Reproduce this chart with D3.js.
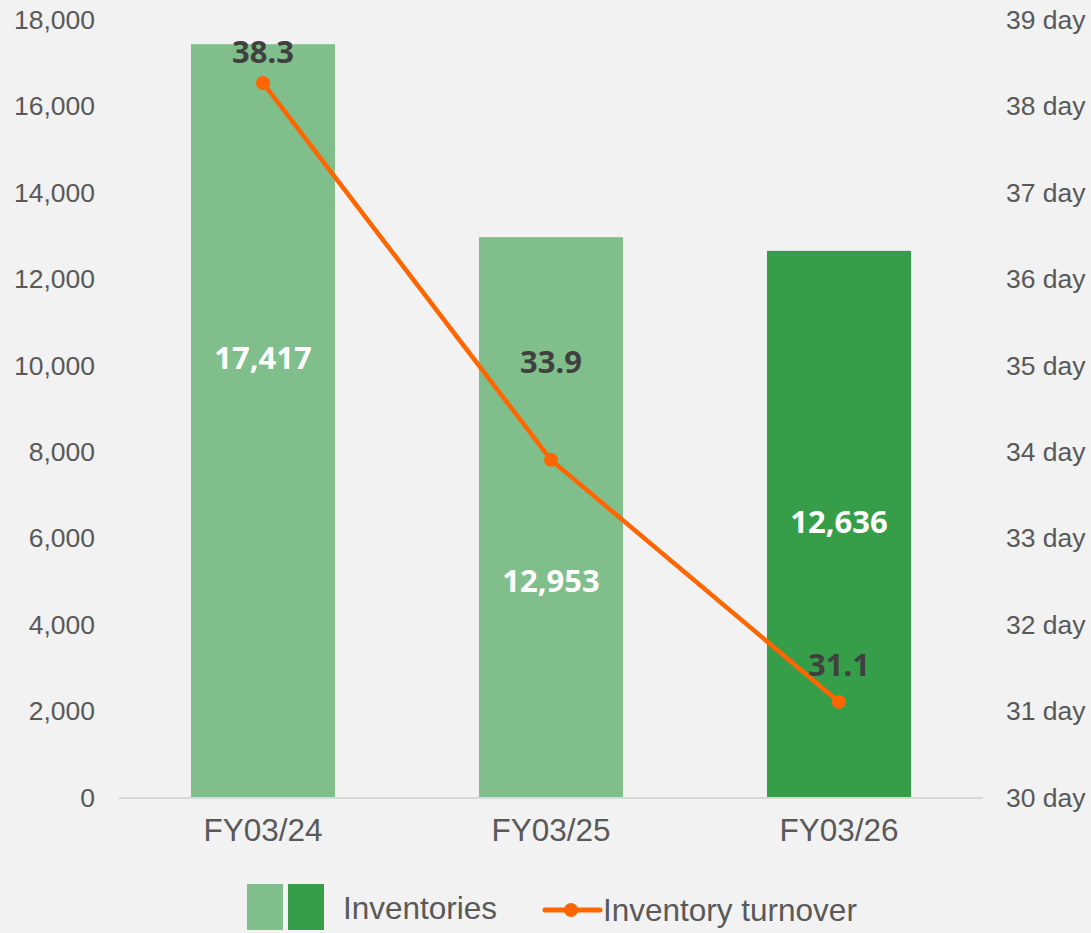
<!DOCTYPE html>
<head>
<meta charset="utf-8">
<script src="https://d3js.org/d3.v7.min.js"></script>
<style>
  body{ margin:0; background:#f2f2f2; }
  text{ font-family: "Liberation Sans", Arial, sans-serif; }
  .tick text{ fill:#595959; font-size:26.5px; }
  .xAxis .tick text{ font-size:31.5px; }
  path.domain{ display:none; }
  .tick line{ display:none; }
  text.valueLabel{ font-family:"Noto Sans", sans-serif; font-weight:700; font-size:31px; }
  text.legend{ fill:#595959; font-size:31.5px; }
</style>
<title>Inventories</title>
</head>
<body>
<script>
const width = 1091;
const height = 933;

// data
const categories = ['FY03/24', 'FY03/25', 'FY03/26'];
const inventories = [17417, 12953, 12636];
const turnover = [38.26, 33.9, 31.1];
const leftTicks = [0, 2000, 4000, 6000, 8000, 10000, 12000, 14000, 16000, 18000];
const rightTicks = [30, 31, 32, 33, 34, 35, 36, 37, 38, 39];
const barColours = ['#80bf8b', '#80bf8b', '#369e48'];

// where the labels sit, in axis units (as placed in the original)
const invLabelAt = [10150, 5000, 6350];
const dayLabelAt = [38.62, 35.03, 31.53];

const margin = {top: 19, right: 108, bottom: 136, left: 119};

const svg = d3.select('body').append('svg')
  .attr('width', width)
  .attr('height', height);

svg.append('rect').attr('width', width).attr('height', height).attr('fill', '#f2f2f2');

const x = d3.scaleBand()
  .domain(categories)
  .range([margin.left, width - margin.right])
  .paddingInner(0.5)
  .paddingOuter(0.25);

const y = d3.scaleLinear()
  .domain([0, 18000])
  .range([height - margin.bottom, margin.top]);

const y2 = d3.scaleLinear()
  .domain([30, 39])
  .range([height - margin.bottom, margin.top]);

// axes
svg.append('g')
  .attr('class', 'axis yAxis')
  .attr('transform', `translate(${margin.left - 12},0)`)
  .call(d3.axisLeft(y).tickValues(leftTicks).tickSize(0).tickPadding(12).tickFormat(d3.format(',')))
  .selectAll('text').attr('dy', '0.35em');

svg.append('g')
  .attr('class', 'axis y2Axis')
  .attr('transform', `translate(${width - margin.right + 10},0)`)
  .call(d3.axisRight(y2).tickValues(rightTicks).tickSize(0).tickPadding(13).tickFormat(d => d + ' day'))
  .selectAll('text').attr('dy', '0.35em');

// bars
svg.selectAll('rect.bar')
  .data(inventories)
  .enter()
  .append('rect')
  .attr('class', 'bar')
  .attr('x', (d, i) => x(categories[i]))
  .attr('width', x.bandwidth())
  .attr('y', d => y(d))
  .attr('height', d => y(0) - y(d))
  .attr('fill', (d, i) => barColours[i]);

// baseline
svg.append('line')
  .attr('x1', margin.left).attr('x2', width - margin.right)
  .attr('y1', y(0) + 1).attr('y2', y(0) + 1)
  .attr('stroke', '#d9d9d9').attr('stroke-width', 2);

svg.append('g')
  .attr('class', 'axis xAxis')
  .attr('transform', `translate(0,${y(0)})`)
  .call(d3.axisBottom(x).tickSize(0).tickPadding(22));

// turnover line
const line = d3.line()
  .x((d, i) => x(categories[i]) + x.bandwidth() / 2)
  .y(d => y2(d));

svg.append('path')
  .datum(turnover)
  .attr('d', line)
  .attr('fill', 'none')
  .attr('stroke', '#ff6600')
  .attr('stroke-width', 4.5);

svg.selectAll('circle.dot')
  .data(turnover)
  .enter()
  .append('circle')
  .attr('class', 'dot')
  .attr('cx', (d, i) => x(categories[i]) + x.bandwidth() / 2)
  .attr('cy', d => y2(d))
  .attr('r', 7)
  .attr('fill', '#ff6600');

// labels
svg.selectAll('text.invLabel')
  .data(inventories)
  .enter()
  .append('text')
  .attr('class', 'valueLabel invLabel')
  .attr('x', (d, i) => x(categories[i]) + x.bandwidth() / 2)
  .attr('y', (d, i) => y(invLabelAt[i]))
  .attr('dy', '0.35em')
  .attr('text-anchor', 'middle')
  .attr('fill', '#ffffff')
  .text(d => d3.format(',')(d));

svg.selectAll('text.dayLabel')
  .data(turnover)
  .enter()
  .append('text')
  .attr('class', 'valueLabel dayLabel')
  .attr('x', (d, i) => x(categories[i]) + x.bandwidth() / 2)
  .attr('y', (d, i) => y2(dayLabelAt[i]))
  .attr('dy', '0.35em')
  .attr('text-anchor', 'middle')
  .attr('fill', '#404040')
  .text(d => d.toFixed(1));

// legend
const lg = svg.append('g').attr('class', 'legendBox');
lg.selectAll('rect')
  .data([barColours[0], barColours[2]])
  .enter()
  .append('rect')
  .attr('x', (d, i) => 247 + i * 41)
  .attr('y', 884)
  .attr('width', 36)
  .attr('height', 46)
  .attr('fill', d => d);
lg.append('text').attr('class', 'legend').attr('x', 343).attr('y', 919).text('Inventories');
lg.append('line')
  .attr('x1', 545).attr('x2', 600).attr('y1', 910).attr('y2', 910)
  .attr('stroke', '#ff6600').attr('stroke-width', 5).attr('stroke-linecap', 'round');
lg.append('circle').attr('cx', 571).attr('cy', 910).attr('r', 7).attr('fill', '#ff6600');
lg.append('text').attr('class', 'legend').attr('x', 603).attr('y', 921).text('Inventory turnover');
</script>
</body>
